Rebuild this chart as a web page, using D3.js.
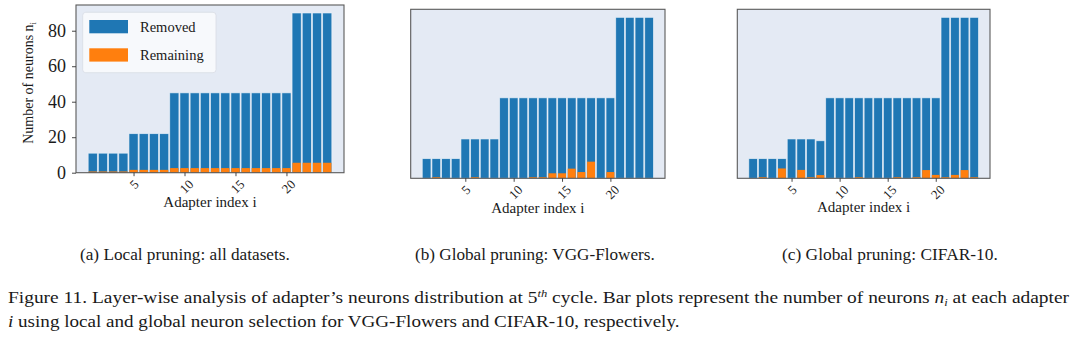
<!DOCTYPE html>
<html>
<head>
<meta charset="utf-8">
<script src="https://cdn.jsdelivr.net/npm/d3@7/dist/d3.min.js"></script>
<style>
  html, body { margin: 0; padding: 0; background: #ffffff; }
  svg { display: block; }
  text { font-family: "Liberation Serif", "Times New Roman", serif; fill: #1a1a1a; }
</style>
</head>
<body>
<svg id="fig" width="1080" height="341"></svg>
<script>
// Adapter indices shared by all three panels
const adapterIndex = [1,2,3,4,5,6,7,8,9,10,11,12,13,14,15,16,17,18,19,20,21,22,23,24];

// (a) Local pruning: all datasets
const totalLocal     = [11,11,11,11,22,22,22,22,45,45,45,45,45,45,45,45,45,45,45,45,90,90,90,90];
const remainingLocal = [0.7,0.7,0.7,0.7,1.6,1.6,1.6,1.6,2.6,2.6,2.6,2.6,2.6,2.6,2.6,2.6,2.6,2.6,2.6,2.6,5.6,5.6,5.6,5.6];

// (b) Global pruning: VGG-Flowers
const totalFlowers     = [11,11,11,11,22,22,22,22,45,45,45,45,45,45,45,45,45,45,45,45,90,90,90,90];
const remainingFlowers = [0,0.6,0,0,0,0.6,0,0,0,0,0,0.6,0.6,2.8,2.8,5.4,3.5,9.3,0,3.5,0,0,0,0];

// (c) Global pruning: CIFAR-10
const totalCifar     = [11,11,11,11,22,22,22,21,45,45,45,45,45,45,45,45,45,45,45,45,90,90,90,90];
const remainingCifar = [0,0.6,0,5.5,0,4.7,0.6,1.8,0,0,0,0.6,0,0,0,0.6,0,0.6,4.6,1.9,0.6,1.9,4.6,0.6];

const xTicks = [5,10,15,20];
const yTicks = [0,20,40,60,80];
const seriesNames = ["Removed", "Remaining"];
const subCaptions = ["(a) Local pruning: all datasets.", "(b) Global pruning: VGG-Flowers.", "(c) Global pruning: CIFAR-10."];

const BLUE = "#1f77b4", ORANGE = "#ff7f0e", PANEL_BG = "#e4eaf4", FRAME = "#5a5a5a";

const svg = d3.select("#fig");

const panels = [
  { box: {x0: 76,    x1: 344, y0: 5,   y1: 172.7}, total: totalLocal,   remaining: remainingLocal,   yAxis: true,  legend: true,  xlabelY: 207, cap: subCaptions[0], capX0: 80,  capW: 210 },
  { box: {x0: 410.7, x1: 665, y0: 9.3, y1: 178.3}, total: totalFlowers, remaining: remainingFlowers, yAxis: false, legend: false, xlabelY: 213, cap: subCaptions[1], capX0: 415, capW: 240 },
  { box: {x0: 737.3, x1: 990, y0: 9.3, y1: 178.3}, total: totalCifar,   remaining: remainingCifar,   yAxis: false, legend: false, xlabelY: 212, cap: subCaptions[2], capX0: 782, capW: 216 }
];

// stretch a text element horizontally so it spans a given width
function fitWidth(sel, target, anchorX) {
  const w = sel.node().getBBox().width;
  const k = target / w;
  sel.attr("transform", `translate(${anchorX},0) scale(${k},1) translate(${-anchorX},0)`);
}

panels.forEach(p => {
  const b = p.box;
  const g = svg.append("g");

  // x: bars at 1..24, width 0.9, with 5% padding like the default autoscale
  const lo = 1 - 0.45, hi = 24 + 0.45, pad = (hi - lo) * 0.05;
  const x = d3.scaleLinear().domain([lo - pad, hi + pad]).range([b.x0, b.x1]);
  const y = d3.scaleLinear().domain([0, 94.5]).range([b.y1, b.y0]);
  const bw = x(0.9) - x(0);

  g.append("rect").attr("x", b.x0).attr("y", b.y0)
    .attr("width", b.x1 - b.x0).attr("height", b.y1 - b.y0).attr("fill", PANEL_BG);

  // removed neurons (full bar height)
  g.selectAll("rect.total").data(adapterIndex).join("rect")
    .attr("class", "total")
    .attr("x", d => x(d) - bw / 2)
    .attr("y", (d, i) => y(p.total[i]))
    .attr("width", bw)
    .attr("height", (d, i) => y(0) - y(p.total[i]))
    .attr("fill", BLUE)
    .attr("stroke", "rgba(240,245,252,0.75)")
    .attr("stroke-width", 0.8);

  // remaining neurons
  g.selectAll("rect.remain").data(adapterIndex).join("rect")
    .attr("class", "remain")
    .attr("x", d => x(d) - bw / 2 + 0.4)
    .attr("y", (d, i) => y(p.remaining[i]))
    .attr("width", bw - 0.8)
    .attr("height", (d, i) => y(0) - y(p.remaining[i]))
    .attr("fill", ORANGE);

  // frame
  g.append("rect").attr("x", b.x0).attr("y", b.y0)
    .attr("width", b.x1 - b.x0).attr("height", b.y1 - b.y0)
    .attr("fill", "none").attr("stroke", FRAME).attr("stroke-width", 1.1);

  // x axis ticks and rotated labels, each label's rotated box hanging below its tick
  const fs = 13;
  const xa = g.append("g").attr("transform", `translate(0,${b.y1})`)
    .call(d3.axisBottom(x).tickValues(xTicks).tickSize(3.5).tickSizeOuter(0));
  xa.select(".domain").remove();
  xa.selectAll(".tick line").attr("stroke", "#333").attr("stroke-width", 0.9);
  xa.selectAll(".tick text")
    .attr("font-family", "Liberation Serif, serif").attr("font-size", fs).attr("fill", "#1a1a1a")
    .attr("text-anchor", "middle")
    .attr("dominant-baseline", "central")
    .attr("dy", null).attr("y", 0)
    .attr("transform", d => {
      const w = String(d).length * 0.5 * fs, h = 0.7 * fs;
      const off = 6 + (w + h) / Math.SQRT2 / 2;
      return `translate(${String(d).length > 1 ? 1.5 : 0},${off}) rotate(-45)`;
    });

  g.append("text").attr("x", (b.x0 + b.x1) / 2).attr("y", p.xlabelY)
    .attr("text-anchor", "middle").attr("font-size", 15).text("Adapter index i");

  if (p.yAxis) {
    const ya = g.append("g").attr("transform", `translate(${b.x0},0)`)
      .call(d3.axisLeft(y).tickValues(yTicks).tickSize(4).tickSizeOuter(0).tickPadding(6));
    ya.select(".domain").remove();
    ya.selectAll(".tick line").attr("stroke", "#333").attr("stroke-width", 0.9);
    ya.selectAll(".tick text").attr("font-family", "Liberation Serif, serif")
      .attr("font-size", 18).attr("fill", "#1a1a1a");

    const yl = g.append("text").attr("transform", `translate(33,${(b.y0 + b.y1) / 2 - 6}) rotate(-90)`)
      .attr("text-anchor", "middle").attr("font-size", 14);
    yl.append("tspan").text("Number of neurons n");
    yl.append("tspan").attr("font-size", 9).attr("dy", 3).text("i");
  }

  if (p.legend) {
    const lg = g.append("g");
    lg.append("rect").attr("x", 82.7).attr("y", 12.3).attr("width", 133.3).attr("height", 60.4)
      .attr("rx", 3).attr("fill", "rgba(250,251,253,0.85)").attr("stroke", "#d8dce4").attr("stroke-width", 0.8);
    const colors = [BLUE, ORANGE];
    seriesNames.forEach((name, i) => {
      const cy = 26.7 + i * 28.3;
      lg.append("rect").attr("x", 89.3).attr("y", cy - 6.7).attr("width", 38.7).attr("height", 13.3)
        .attr("fill", colors[i]);
      lg.append("text").attr("x", 140).attr("y", cy + 5).attr("font-size", 14.5).text(name);
    });
  }

  // sub-caption
  const sc = g.append("text").attr("x", p.capX0).attr("y", 260).attr("font-size", 16).text(p.cap);
  fitWidth(sc, p.capW, p.capX0);
});

// figure caption
const cap1 = svg.append("text").attr("x", 8).attr("y", 303).attr("font-size", 17);
cap1.append("tspan").text("Figure 11. Layer-wise analysis of adapter\u2019s neurons distribution at 5");
cap1.append("tspan").attr("font-style", "italic").attr("font-size", 11).attr("dy", -6).text("th");
cap1.append("tspan").attr("dy", 6).text(" cycle. Bar plots represent the number of neurons ");
cap1.append("tspan").attr("font-style", "italic").text("n");
cap1.append("tspan").attr("font-style", "italic").attr("font-size", 11).attr("dy", 3).text("i");
cap1.append("tspan").attr("dy", -3).text(" at each adapter");
fitWidth(cap1, 1062, 8);

const cap2 = svg.append("text").attr("x", 8).attr("y", 327).attr("font-size", 17);
cap2.append("tspan").attr("font-style", "italic").text("i");
cap2.append("tspan").text(" using local and global neuron selection for VGG-Flowers and CIFAR-10, respectively.");
fitWidth(cap2, 672, 8);
</script>
</body>
</html>
